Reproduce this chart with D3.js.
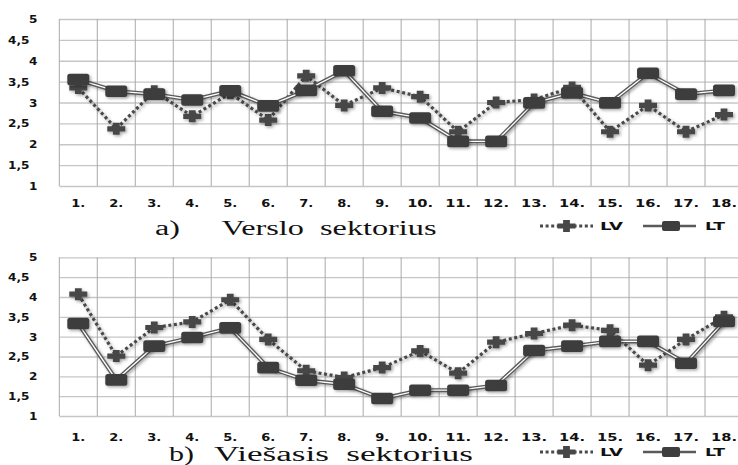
<!DOCTYPE html>
<html>
<head>
<meta charset="utf-8">
<script src="https://cdn.jsdelivr.net/npm/d3@7"></script>
<style>
body{margin:0;background:#fff;}
svg{display:block;}
</style>
</head>
<body>
<svg id="chart" width="738" height="465"></svg>
<script>
var cats = ["1.","2.","3.","4.","5.","6.","7.","8.","9.","10.","11.","12.","13.","14.","15.","16.","17.","18."];
var yTicks = [1,1.5,2,2.5,3,3.5,4,4.5,5];

// a) Verslo sektorius
var lvA = [3.35,2.37,3.27,2.67,3.22,2.58,3.64,2.93,3.35,3.14,2.3,3.0,3.07,3.36,2.3,2.93,2.3,2.71];
var ltA = [3.55,3.27,3.2,3.06,3.28,2.92,3.29,3.76,2.79,2.63,2.07,2.07,2.99,3.23,2.99,3.7,3.2,3.29];
// b) Viesasis sektorius
var lvB = [4.07,2.51,3.23,3.37,3.93,2.93,2.14,1.97,2.22,2.64,2.08,2.86,3.08,3.29,3.16,2.28,2.93,3.5];
var ltB = [3.33,1.91,2.76,2.98,3.22,2.22,1.9,1.8,1.44,1.65,1.65,1.77,2.65,2.76,2.88,2.88,2.33,3.38];

var svg = d3.select("#chart");

var defs = svg.append("defs");
var f = defs.append("filter").attr("id","shadow").attr("x","-50%").attr("y","-50%").attr("width","200%").attr("height","200%");
f.append("feDropShadow").attr("dx",1.5).attr("dy",1.5).attr("stdDeviation",1.4)
    .attr("flood-color","#000").attr("flood-opacity",0.35);

function plusPath(cx, cy){
    // wide plus marker
    var hw=9, hh=2.6, vw=3.4, vh=6;
    return "M"+(cx-hw)+","+(cy-hh)+"H"+(cx-vw)+"V"+(cy-vh)+"H"+(cx+vw)+"V"+(cy-hh)+"H"+(cx+hw)
        +"V"+(cy+hh)+"H"+(cx+vw)+"V"+(cy+vh)+"H"+(cx-vw)+"V"+(cy+hh)+"H"+(cx-hw)+"Z";
}

function drawPanel(top, bottom, lv, lt, labY, tag, title, tagX, titleX, titleLen, titleY, legY){
    var x = d3.scaleBand().domain(cats).range([59.3, 743]);
    var y = d3.scaleLinear().domain([1,5]).range([bottom, top]);
    var g = svg.append("g");

    // horizontal grid
    g.append("g").attr("transform","translate(59.3,0)")
        .call(d3.axisLeft(y).tickValues(yTicks).tickSize(-(743-59.3)).tickFormat(""))
        .call(function(a){
            a.select(".domain").remove();
            a.selectAll("line").attr("stroke","#c6c6c6").attr("stroke-width",1.3);
        });
    // vertical grid at category edges
    var edges = cats.map(function(c){ return x(c); });
    g.selectAll(".vg").data(edges).enter().append("line")
        .attr("x1",function(d){return d;}).attr("x2",function(d){return d;})
        .attr("y1",top).attr("y2",bottom)
        .attr("stroke","#a9a9a9").attr("stroke-width",1);

    // y labels
    g.selectAll(".yl").data(yTicks).enter().append("text")
        .attr("transform",function(d){
            var xx = (d%1===0) ? 37.5 : 29.5;
            return "translate("+xx+","+(y(d)+4)+") scale(1.1,1)";
        })
        .attr("text-anchor","end")
        .attr("font-family","DejaVu Sans").attr("font-weight","bold").attr("font-size",11)
        .attr("fill","#111")
        .text(function(d){ return String(d).replace(".",","); });

    // x labels
    g.selectAll(".xl").data(cats).enter().append("text")
        .attr("x",function(d){ return x(d)+x.bandwidth()/2; })
        .attr("y",labY)
        .attr("text-anchor","middle")
        .attr("font-family","DejaVu Sans").attr("font-weight","bold").attr("font-size",11)
        .attr("textLength",function(d){ return d.length>2 ? 26 : 14; })
        .attr("lengthAdjust","spacingAndGlyphs")
        .attr("fill","#111")
        .text(function(d){ return d; });

    var cx = function(d,i){ return x(cats[i])+x.bandwidth()/2; };

    // LV dotted line
    var line = d3.line().x(function(d,i){ return cx(d,i); }).y(function(d){ return y(d); });
    g.append("path").datum(lv).attr("d",line).attr("fill","none")
        .attr("stroke","#4a4a4a").attr("stroke-width",3.2).attr("stroke-dasharray","3,2.6")
        .attr("filter","url(#shadow)");
    g.selectAll(".lvm").data(lv).enter().append("path")
        .attr("d",function(d,i){ return plusPath(cx(d,i), y(d)); })
        .attr("fill","#474747").attr("filter","url(#shadow)");

    // LT double line
    g.append("path").datum(lt).attr("d",line).attr("fill","none")
        .attr("stroke","#5a5a5a").attr("stroke-width",4).attr("filter","url(#shadow)");
    g.append("path").datum(lt).attr("d",line).attr("fill","none")
        .attr("stroke","#fff").attr("stroke-width",1.3);
    g.selectAll(".ltm").data(lt).enter().append("rect")
        .attr("x",function(d,i){ return cx(d,i)-11; })
        .attr("y",function(d){ return y(d)-5.8; })
        .attr("width",22).attr("height",11.6).attr("rx",2.5)
        .attr("fill","#3e3e3e").attr("filter","url(#shadow)");

    // title
    g.append("text").attr("x",tagX).attr("y",titleY)
        .attr("font-family","Liberation Serif").attr("font-size",20)
        .attr("textLength",25).attr("lengthAdjust","spacingAndGlyphs")
        .attr("fill","#111").text(tag);
    g.append("text").attr("x",titleX).attr("y",titleY)
        .attr("font-family","Liberation Serif").attr("font-size",20)
        .attr("textLength",titleLen).attr("lengthAdjust","spacingAndGlyphs")
        .attr("fill","#111").text(title);

    // legend
    var lg = g.append("g");
    lg.append("line").attr("x1",540).attr("x2",593).attr("y1",legY).attr("y2",legY)
        .attr("stroke","#4a4a4a").attr("stroke-width",3).attr("stroke-dasharray","3,2.6");
    lg.append("path").attr("d",plusPath(566.5, legY)).attr("fill","#474747");
    lg.append("text").attr("x",600).attr("y",legY+4)
        .attr("font-family","DejaVu Sans").attr("font-weight","bold").attr("font-size",11)
        .attr("textLength",23).attr("lengthAdjust","spacingAndGlyphs")
        .attr("fill","#111").text("LV");
    lg.append("line").attr("x1",643).attr("x2",696).attr("y1",legY).attr("y2",legY)
        .attr("stroke","#5a5a5a").attr("stroke-width",2.5);
    lg.append("rect").attr("x",662).attr("y",legY-5).attr("width",18).attr("height",10).attr("rx",2)
        .attr("fill","#3e3e3e");
    lg.append("text").attr("x",705).attr("y",legY+4)
        .attr("font-family","DejaVu Sans").attr("font-weight","bold").attr("font-size",11)
        .attr("textLength",20).attr("lengthAdjust","spacingAndGlyphs")
        .attr("fill","#111").text("LT");
}

drawPanel(19, 186, lvA, ltA, 207, "a)", "Verslo\u00a0 sektorius", 155, 221.5, 215, 235, 226);
drawPanel(257.3, 416, lvB, ltB, 441, "b)", "Viešasis\u00a0 sektorius", 169, 214, 259, 461, 452);
</script>
</body>
</html>
